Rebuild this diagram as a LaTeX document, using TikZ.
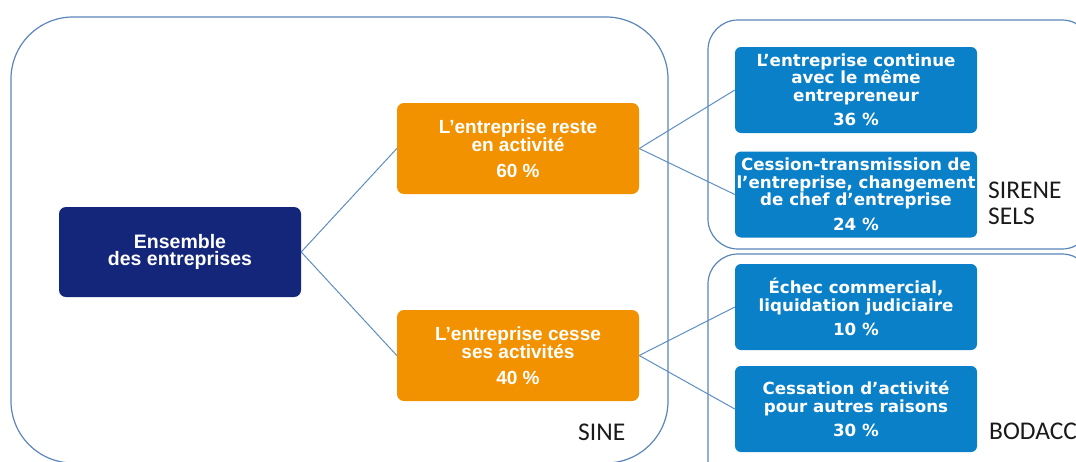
\documentclass[tikz,border=0pt]{standalone}
\usepackage{fontspec}
\setmainfont{Liberation Sans}
\newfontfamily\blufont{DejaVu Sans}
\newfontfamily\labfont{Carlito}
\definecolor{navy}{HTML}{13267A}
\definecolor{orangebox}{HTML}{F39200}
\definecolor{bluebox}{HTML}{0A80C8}
\definecolor{linecol}{HTML}{5E8EC2}
\definecolor{framecol}{HTML}{5A86BB}
\definecolor{labcol}{HTML}{1A1A1A}
\tikzset{
  box/.style={rounded corners=7pt, minimum width=242pt, inner sep=0pt, align=center, text=white},
  navybox/.style={box, fill=navy, minimum height=90pt, font=\fontsize{19.5}{17.5}\selectfont\bfseries},
  orbox/.style={box, fill=orangebox, minimum height=91pt, font=\fontsize{19}{18}\selectfont\bfseries},
  blbox/.style={box, rounded corners=6pt, fill=bluebox, minimum height=86pt, font=\blufont\fontsize{16.7}{17.5}\selectfont\bfseries},
  frame/.style={draw=framecol, line width=1.2pt},
  conn/.style={draw=linecol, line width=1pt},
  lab/.style={anchor=base west, inner sep=0pt, text=labcol, font=\labfont\fontsize{25.5}{27}\selectfont}
}
\begin{document}
\begin{tikzpicture}[x=1pt,y=-1pt]
\useasboundingbox (0,0) rectangle (1076,461);
\fill[white] (0,0) rectangle (1076,461);
% containers
\draw[frame, rounded corners=62pt] (11,17) rectangle (668,463);
\draw[frame, rounded corners=30pt] (708,20) rectangle (1092,249);
\draw[frame, rounded corners=30pt] (708,254) rectangle (1092,490);
% nodes
\node[navybox] (ens) at (180,252) {Ensemble\\des entreprises};
\node[orbox] (reste) at (518,148.5) {L’entreprise reste\\en activité\\[8pt]60 \%};
\node[orbox] (cesse) at (518,355.5) {L’entreprise cesse\\ses activités\\[8pt]40 \%};
\node[blbox] (cont) at (856,90) {L’entreprise continue\\avec le même\\entrepreneur\\[7pt]36 \%};
\node[blbox] (cess) at (856,194.5) {Cession-transmission de\\l’entreprise, changement\\de chef d’entreprise\\[7pt]24 \%};
\node[blbox] (echec) at (856,307) {Échec commercial,\\liquidation judiciaire\\[7pt]10 \%};
\node[blbox] (autre) at (856,409) {Cessation d’activité\\pour autres raisons\\[7pt]30 \%};
% connectors
\draw[conn] (ens.east) -- (reste.west);
\draw[conn] (ens.east) -- (cesse.west);
\draw[conn] (reste.east) -- (cont.west);
\draw[conn] (reste.east) -- (cess.west);
\draw[conn] (cesse.east) -- (echec.west);
\draw[conn] (cesse.east) -- (autre.west);
% labels
\node[lab] (sine) at (578,440) {SINE};
\node[lab] (sirene) at (988,198) {SIRENE};
\node[lab] (sels) at (988,224) {SELS};
\node[lab] (bodacc) at (989,439) {BODACC};
\end{tikzpicture}
\end{document}
